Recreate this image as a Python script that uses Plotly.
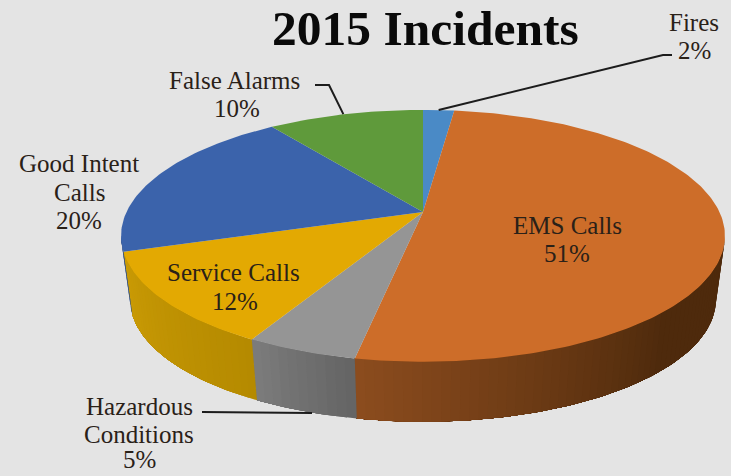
import math
import plotly.graph_objects as go

# Incident categories, in clockwise order from twelve o'clock
categories = ["Fires", "EMS Calls", "Hazardous Conditions", "Service Calls", "Good Intent Calls", "False Alarms"]
shares = [2, 51, 5, 12, 20, 10]
top_colors = ["#4a8ac6", "#cd6d29", "#959595", "#e3a902", "#3b63ab", "#5f9a3b"]
side_left = ["#3f75a8", "#8c4c1e", "#7c7c7c", "#ca9b05", "#2f4f8a", "#4c7b2f"]
side_right = ["#3f75a8", "#4e2a0c", "#646464", "#b58a00", "#2f4f8a", "#4c7b2f"]

# Projection of the disc onto the page
CX, CY = 423.0, 212.0
RX, RY, PERSP = 296.5, 121.4, 0.189
DEPTH, BOTTOM_SCALE = 64.5, 0.97
BG = "#e4e4e4"


def rim(theta, r=1.0):
    """Page position of a point on the top face; theta runs clockwise from the top."""
    x, y = r * math.sin(theta), r * math.cos(theta)
    s = 1 + PERSP * y
    return CX + RX * x / s, CY - RY * y / s


def rim_low(theta):
    px, py = rim(theta)
    return CX + (px - CX) * BOTTOM_SCALE, CY + (py - CY) * BOTTOM_SCALE + DEPTH


def hex_mix(a, b, t):
    ca = [int(a[i:i + 2], 16) for i in (1, 3, 5)]
    cb = [int(b[i:i + 2], 16) for i in (1, 3, 5)]
    return "#" + "".join(f"{round(p + (q - p) * t):02x}" for p, q in zip(ca, cb))


total = sum(shares)
edges = [0.0]
for v in shares:
    edges.append(edges[-1] + v / total * 2 * math.pi)


def poly(xs, ys, color):
    return go.Scatter(x=xs, y=ys, mode="lines", fill="toself", fillcolor=color,
                      line=dict(color=color, width=0), hoverinfo="skip", showlegend=False)


fig = go.Figure()

# Outer wall between the two silhouette tangents; each strip runs under its neighbour
vis_start = math.pi - math.acos(PERSP)
vis_end = math.pi + math.acos(PERSP)
for i in range(1, 5):
    a0, a1 = max(edges[i], vis_start), min(edges[i + 1], vis_end)
    if a1 <= a0:
        continue
    n = max(2, int((a1 - a0) / math.radians(1.5)))
    for k in range(n):
        t0 = a0 + (a1 - a0) * k / n
        t1 = a1
        frac = (k + 0.5) / n
        # brightness rises toward the left-hand end of the orange wall
        if i == 1:
            color = hex_mix(side_left[i], side_right[i], min(1.0, (1 - frac) / 0.62))
        else:
            color = hex_mix(side_right[i], side_left[i], frac)
        steps = max(2, int((t1 - t0) / math.radians(1.0)))
        angles = [t0 + (t1 - t0) * j / steps for j in range(steps + 1)]
        upper = [rim(a) for a in angles]
        lower = [rim_low(a) for a in reversed(angles)]
        outline = upper + lower + upper[:1]
        fig.add_trace(poly([p[0] for p in outline], [p[1] for p in outline], color))

# Top face
for i, color in enumerate(top_colors):
    steps = max(4, int((edges[i + 1] - edges[i]) / math.radians(1.0)))
    pts = [rim(edges[i] + (edges[i + 1] - edges[i]) * k / steps) for k in range(steps + 1)]
    xs = [CX] + [p[0] for p in pts] + [CX]
    ys = [CY] + [p[1] for p in pts] + [CY]
    fig.add_trace(poly(xs, ys, color))

# Leader lines from the outside labels to their slices
mid = [(edges[i] + edges[i + 1]) / 2 for i in range(len(shares))]
leaders = [
    ([rim(mid[0])[0], 663, 672], [rim(mid[0])[1], 55, 55]),
    ([rim(mid[5])[0] - 2, 329, 315], [rim(mid[5])[1], 85, 85]),
    ([202, 312], [412, 413]),
]
for xs, ys in leaders:
    fig.add_trace(go.Scatter(x=xs, y=ys, mode="lines", line=dict(color="#1c1c1c", width=2),
                             hoverinfo="skip", showlegend=False))

# Each label line is placed on its own so the leading stays tight
label_lines = [
    (categories[0], 694, 22), (f"{shares[0]}%", 694, 50),
    (categories[1], 567, 225), (f"{shares[1]}%", 567, 253),
    ("Hazardous", 139, 406), ("Conditions", 139, 434), (f"{shares[2]}%", 139, 459),
    (categories[3], 233, 272), (f"{shares[3]}%", 235, 301),
    ("Good Intent", 79, 163), ("Calls", 79, 192), (f"{shares[4]}%", 79, 220),
    (categories[5], 234, 80), (f"{shares[5]}%", 237, 108),
]
annotations = [
    dict(x=x, y=y, xref="x", yref="y", text=t, showarrow=False,
         font=dict(family="Liberation Serif", size=25, color="#2a2118"))
    for t, x, y in label_lines
]
annotations.append(dict(x=425, y=28, xref="x", yref="y", text="<b>2015 Incidents</b>", showarrow=False,
                        font=dict(family="Liberation Serif", size=49.5, color="#0a0a0a")))

fig.update_layout(
    width=731, height=476, margin=dict(l=0, r=0, t=0, b=0),
    paper_bgcolor=BG, plot_bgcolor=BG, showlegend=False, annotations=annotations,
    xaxis=dict(range=[0, 731], visible=False, fixedrange=True),
    yaxis=dict(range=[476, 0], visible=False, fixedrange=True),
)
fig.write_html("out.html", config={"displayModeBar": False})
